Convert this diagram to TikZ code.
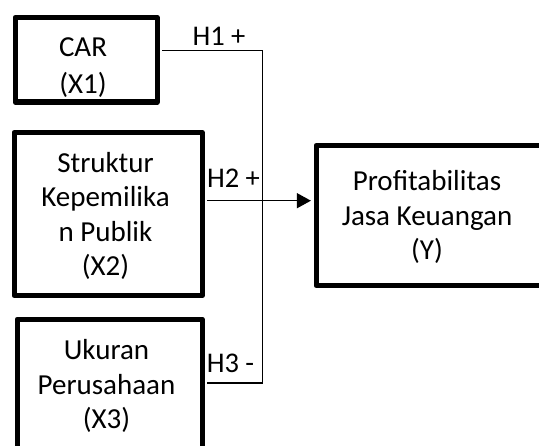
\documentclass[tikz,border=0pt]{standalone}
\usepackage{fontspec}
\setmainfont{Carlito}
\usetikzlibrary{arrows.meta}
\begin{document}
\begin{tikzpicture}[x=1pt,y=-1pt,
  box/.style={draw,line width=5.2pt,line join=round},
  txt/.style={align=center,inner sep=0pt,font=\fontsize{29}{34.5}\selectfont},
  lbl/.style={inner sep=0pt,anchor=base,font=\fontsize{28.5}{34}\selectfont},
  conn/.style={line width=1.4pt}]
\clip (0,0) rectangle (539,446);
% texts
\node[txt,font=\fontsize{29}{37}\selectfont] (t1) at (83,67.5) {CAR\\(X1)};
\node[txt] (t2) at (105.5,216) {Struktur\\Kepemilika\\n Publik\\(X2)};
\node[txt] (t3) at (106.5,386) {Ukuran\\Perusahaan\\(X3)};
\node[txt] (ty) at (427,217) {Profitabilitas\\Jasa Keuangan\\(Y)};
% boxes (drawn over text, as in the reference)
\node[box,minimum width=142pt,minimum height=84.5pt,anchor=north west,inner sep=0pt] (x1) at (12.5,15) {};
\node[box,minimum width=188pt,minimum height=163pt,anchor=north west,inner sep=0pt] (x2) at (11.5,130) {};
\node[box,minimum width=185pt,minimum height=150pt,anchor=north west,inner sep=0pt] (x3) at (14.5,316.7) {};
\node[box,minimum width=226pt,minimum height=140pt,anchor=north west,inner sep=0pt] (y) at (313.5,143) {};
% connectors
\coordinate (j1) at (262.5,50.7);
\coordinate (j2) at (262.5,200.7);
\coordinate (j3) at (262.5,383);
\draw[conn,line join=miter] ([xshift=2.6pt]x1.east |- j1) -- (j1) -- (j3) -- ([xshift=2.6pt]x3.east |- j3);
\draw[conn,-{Triangle[length=14pt,width=15pt]},shorten >=2.6pt] ([xshift=2.6pt]x2.east |- j2) -- (y.west |- j2);
% labels
\node[lbl] (h1) at (219,46) {H1 +};
\node[lbl] (h2) at (233.5,188) {H2 +};
\node[lbl] (h3) at (230.5,373) {H3 -};
\end{tikzpicture}
\end{document}
